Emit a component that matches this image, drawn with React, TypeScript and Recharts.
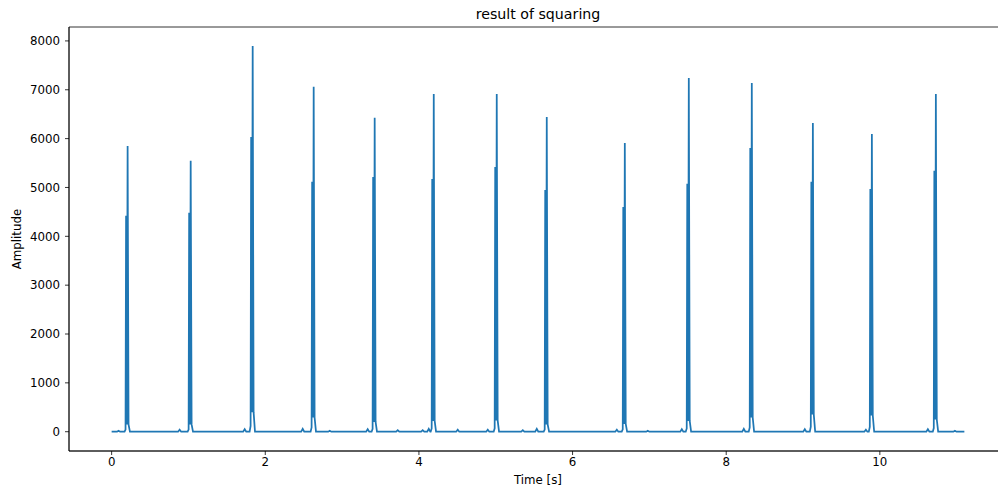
import React from 'react';
import { LineChart, Line, XAxis, YAxis, ReferenceArea } from 'recharts';

// R-peak times of each beat (s) and the squared amplitudes around them
const beatTimes = [0.208, 1.029, 1.836, 2.63, 3.424, 4.193, 5.013, 5.664, 6.68, 7.513, 8.333, 9.128, 9.896, 10.729];
const peakValues = [5850, 5545, 7895, 7060, 6425, 6915, 6915, 6440, 5910, 7240, 7140, 6320, 6095, 6915];
const leadValues = [4420, 4480, 6035, 5115, 5215, 5175, 5420, 4950, 4600, 5075, 5810, 5115, 4970, 5340];
const baseBumps = [150, 150, 400, 290, 200, 220, 230, 150, 160, 220, 290, 350, 330, 250];

// small baseline ripples between beats
const minorTimes = [0.09, 0.885, 1.732, 2.487, 2.839, 3.333, 3.724, 4.049, 4.128, 4.505, 4.896, 5.352, 5.534, 6.576, 6.979, 7.422, 8.229, 9.023, 9.818, 10.625, 10.977];
const minorValues = [20, 40, 50, 60, 20, 50, 30, 30, 60, 40, 40, 30, 60, 40, 20, 50, 60, 50, 40, 50, 20];

const signalStart = 0;
const signalEnd = 11.1;

const xTicks = [0, 2, 4, 6, 8, 10];
const yTicks = [0, 1000, 2000, 3000, 4000, 5000, 6000, 7000, 8000];

const xDomain: [number, number] = [-0.555, 11.655];
const yDomain: [number, number] = [-395, 8285];

type Pt = { t: number; v: number };

function buildSeries(): Pt[] {
  const pts: Pt[] = [{ t: signalStart, v: 0 }];
  beatTimes.forEach((t, i) => {
    pts.push(
      { t: t - 0.04, v: 0 },
      { t: t - 0.027, v: baseBumps[i] * 0.3 },
      { t: t - 0.02, v: leadValues[i] },
      { t: t - 0.01, v: baseBumps[i] },
      { t, v: peakValues[i] },
      { t: t + 0.012, v: baseBumps[i] },
      { t: t + 0.03, v: 0 }
    );
  });
  minorTimes.forEach((t, i) => {
    pts.push({ t: t - 0.02, v: 0 }, { t, v: minorValues[i] }, { t: t + 0.02, v: 0 });
  });
  pts.push({ t: signalEnd, v: 0 });
  return pts.sort((a, b) => a.t - b.t);
}

const data = buildSeries();

const FONT = '"DejaVu Sans", sans-serif';
const tickStyle = { fontFamily: FONT, fontSize: 11.8, fill: '#000' };

export default function App() {
  return (
    <div
      style={{
        position: 'absolute',
        left: 0,
        top: 0,
        width: 998,
        height: 491,
        overflow: 'hidden',
        background: '#fff',
        fontFamily: FONT,
      }}
    >
      <LineChart
        width={1010}
        height={491}
        data={data}
        margin={{ top: 27, right: 3, left: 0, bottom: 10 }}
      >
        <XAxis
          dataKey="t"
          type="number"
          domain={xDomain}
          ticks={xTicks}
          allowDataOverflow
          height={30}
          tickSize={4}
          tickMargin={3}
          tick={tickStyle}
          axisLine={{ stroke: '#000', strokeWidth: 0.8 }}
          tickLine={{ stroke: '#000', strokeWidth: 0.8 }}
        />
        <YAxis
          type="number"
          domain={yDomain}
          ticks={yTicks}
          allowDataOverflow
          width={69}
          tickSize={4}
          tickMargin={5}
          tick={tickStyle}
          axisLine={{ stroke: '#000', strokeWidth: 0.8 }}
          tickLine={{ stroke: '#000', strokeWidth: 0.8 }}
        />
        <ReferenceArea
          x1={xDomain[0]}
          x2={xDomain[1]}
          y1={yDomain[0]}
          y2={yDomain[1]}
          fill="none"
          stroke="#000"
          strokeWidth={0.8}
          ifOverflow="visible"
        />
        <Line
          type="linear"
          dataKey="v"
          stroke="#1f77b4"
          strokeWidth={1.75}
          dot={false}
          activeDot={false}
          isAnimationActive={false}
        />
      </LineChart>
      <div
        style={{
          position: 'absolute',
          left: 338,
          width: 400,
          top: 5,
          textAlign: 'center',
          fontSize: 14.2,
          lineHeight: '18px',
          color: '#000',
        }}
      >
        result of squaring
      </div>
      <div
        style={{
          position: 'absolute',
          left: 438,
          width: 200,
          top: 472,
          textAlign: 'center',
          fontSize: 11.8,
          lineHeight: '16px',
          color: '#000',
        }}
      >
        Time [s]
      </div>
      <div
        style={{
          position: 'absolute',
          left: 17 - 60,
          top: 239 - 8,
          width: 120,
          textAlign: 'center',
          fontSize: 11.8,
          lineHeight: '16px',
          color: '#000',
          transform: 'rotate(-90deg)',
        }}
      >
        Amplitude
      </div>
    </div>
  );
}
